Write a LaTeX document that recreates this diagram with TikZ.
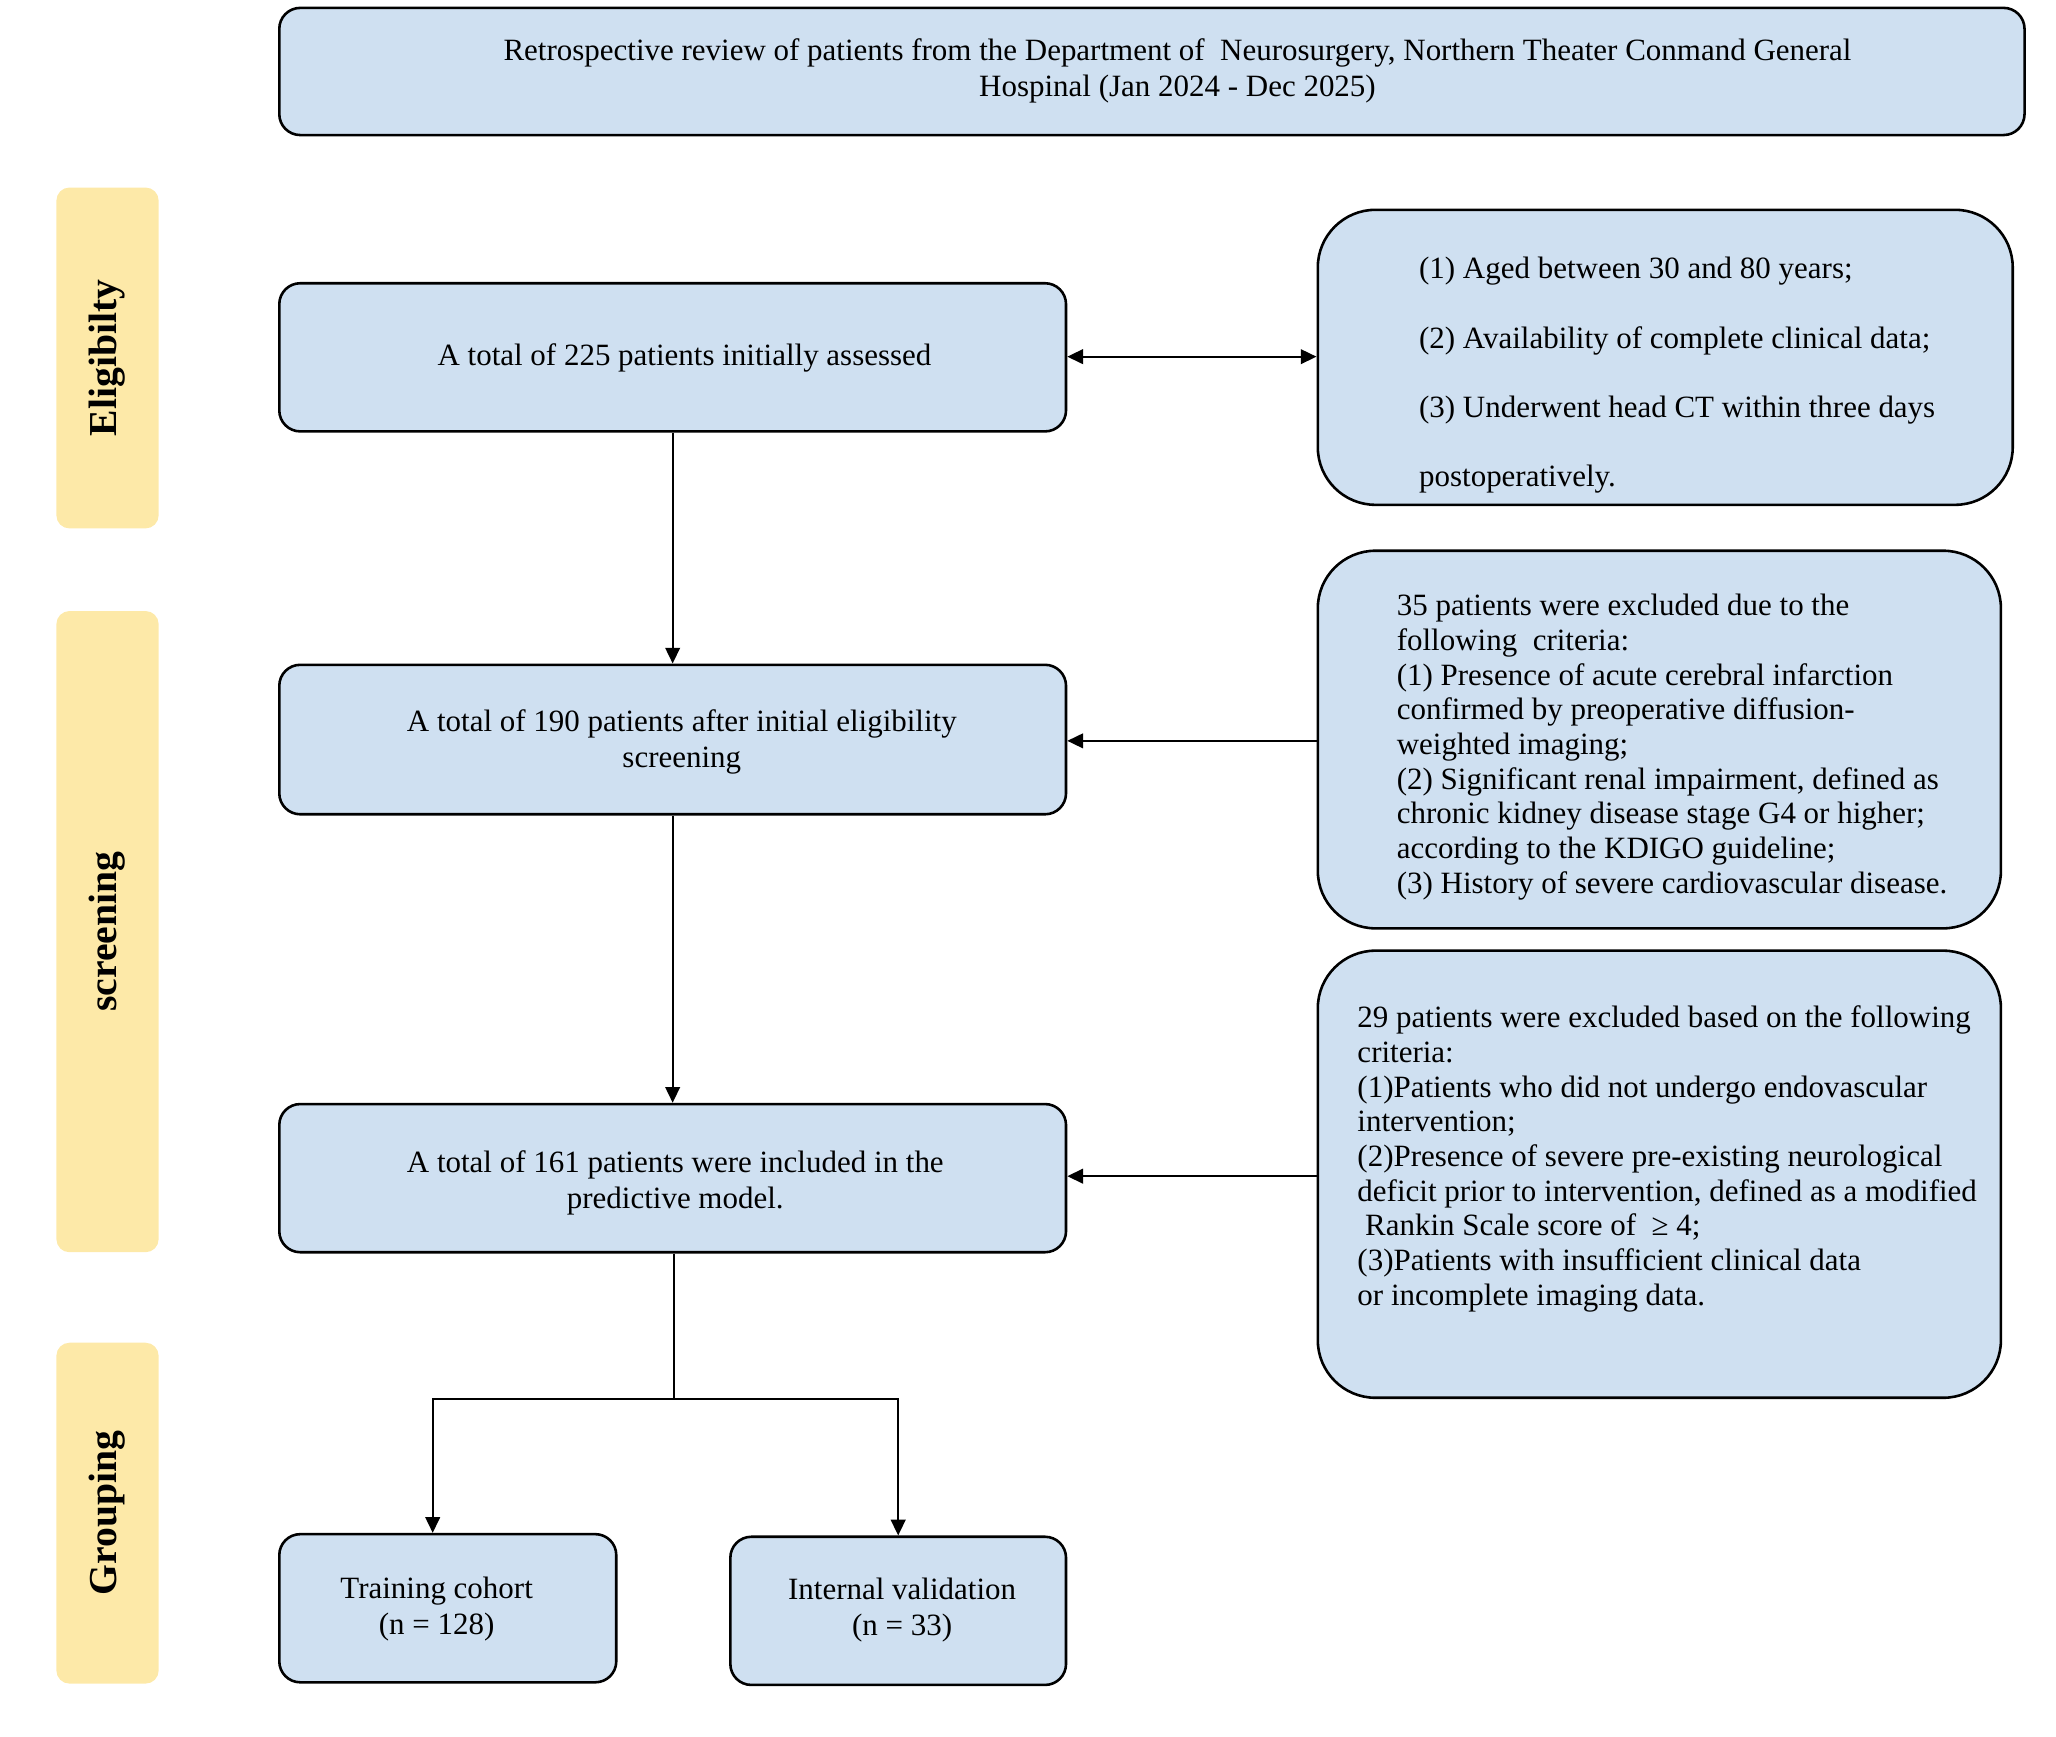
\documentclass[tikz,border=0pt]{standalone}
\usepackage{fontspec}
\setmainfont{Liberation Serif}
\usetikzlibrary{arrows.meta,fit}
\definecolor{boxblue}{HTML}{CFE0F1}
\definecolor{labelyellow}{HTML}{FDE9A8}
\begin{document}
\begin{tikzpicture}[x=0.025cm,y=-0.025cm,
  bluebox/.style={draw=black, line width=1.4pt, fill=boxblue, rounded corners=0.4cm, inner sep=0pt},
  bigbox/.style={bluebox, rounded corners=1.1cm},
  sidelabel/.style={fill=labelyellow, rounded corners=0.25cm, inner sep=0pt},
  labeltext/.style={rotate=90, inner sep=0pt, font=\fontsize{21.5}{24}\bfseries\selectfont},
  boxtext/.style={align=center, inner sep=0pt, font=\fontsize{16.8}{19.6}\selectfont},
  listtext/.style={inner sep=0pt, align=left, anchor=north west, font=\fontsize{16.8}{18.8}\selectfont},
  conn/.style={line width=1pt, -{Triangle[length=0.3cm,width=0.28cm]}}
]
\useasboundingbox (0,0) rectangle (1568,1324);
% side labels
\node[sidelabel, fit={(43,143) (121,403)}] (lelig) {};
\node[labeltext] (telig) at (lelig.center) {Eligibilty};
\node[sidelabel, fit={(43,466) (121,955)}] (lscr) {};
\node[labeltext] (tscr) at (lscr.center) {screening};
\node[sidelabel, fit={(43,1024) (121,1284)}] (lgrp) {};
\node[labeltext] (tgrp) at (lgrp.center) {Grouping};
% top box
\node[bluebox, fit={(213,6) (1544,103)}] (top) {};
\node[boxtext] (toptext) at (898,54) {Retrospective review of patients from the Department of \ Neurosurgery, Northern Theater Conmand General\\Hospinal (Jan 2024 - Dec 2025)};
% main column
\node[bluebox, fit={(213,216) (813,329)}] (a) {};
\node[boxtext] (atext) at (522,273) {A total of 225 patients initially assessed};
\node[bluebox, fit={(213,507) (813,621)}] (b) {};
\node[boxtext] (btext) at (520,566) {A total of 190 patients after initial eligibility\\screening};
\node[bluebox, fit={(213,842) (813,955)}] (c) {};
\node[boxtext] (ctext) at (515,902) {A total of 161 patients were included in the\\predictive model.};
\node[bluebox, fit={(213,1170) (470,1283)}] (d) {};
\node[boxtext] (dtext) at (333,1227) {Training cohort\\(n = 128)};
\node[bluebox, fit={(557,1172) (813,1285)}] (e) {};
\node[boxtext] (etext) at (688,1228) {Internal validation\\(n = 33)};
% right boxes
\node[bigbox, fit={(1005,160) (1535,385)}] (r1) {};
\node[listtext, font=\fontsize{16.8}{37.6}\selectfont] (r1text) at (1082,196) {(1) Aged between 30 and 80 years;\\(2) Availability of complete clinical data;\\(3) Underwent head CT within three days\\postoperatively.};
\node[bigbox, fit={(1005,420) (1526,708)}] (r2) {};
\node[listtext] (r2text) at (1065,453) {35 patients were excluded due to the\\following \ criteria:\\(1) Presence of acute cerebral infarction\\confirmed by preoperative diffusion-\\weighted imaging;\\(2) Significant renal impairment, defined as\\chronic kidney disease stage G4 or higher;\\according to the KDIGO guideline;\\(3) History of severe cardiovascular disease.};
\node[bigbox, fit={(1005,725) (1526,1066)}] (r3) {};
\node[listtext] (r3text) at (1035,767) {29 patients were excluded based on the following\\criteria:\\(1)Patients who did not undergo endovascular\\intervention;\\(2)Presence of severe pre-existing neurological\\deficit prior to intervention, defined as a modified\\\ Rankin Scale score of \ ≥ 4;\\(3)Patients with insufficient clinical data\\or incomplete imaging data.};
% connectors
\coordinate (j) at (514,1067);
\draw[conn] (a.south) -- (b.north);
\draw[conn] (b.south) -- (c.north);
\draw[line width=1pt] (c.south -| j) -- (j);
\draw[conn] (j) -| (d.north -| 330,0);
\draw[conn] (j) -| (e.north -| 685,0);
\draw[line width=1pt, {Triangle[length=0.3cm,width=0.28cm]}-{Triangle[length=0.3cm,width=0.28cm]}] (a.east |- 0,272) -- (r1.west |- 0,272);
\draw[conn] (r2.west |- 0,565) -- (b.east |- 0,565);
\draw[conn] (r3.west |- 0,897) -- (c.east |- 0,897);
\end{tikzpicture}
\end{document}
